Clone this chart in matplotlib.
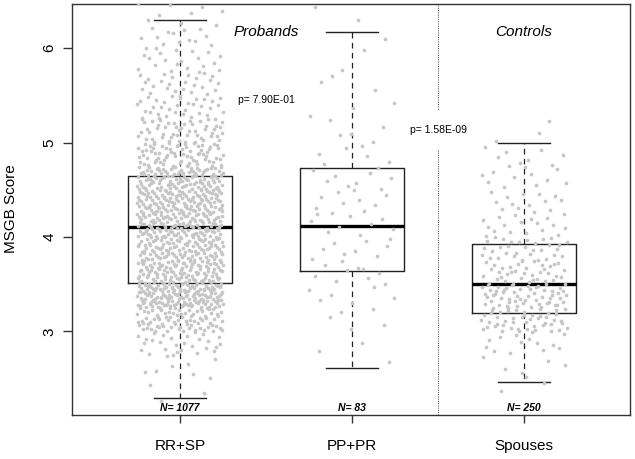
import numpy as np
import matplotlib.pyplot as plt

plt.rcParams['font.family'] = ['Liberation Sans', 'DejaVu Sans']

# groups and box statistics
groups = ["RR+SP", "PP+PR", "Spouses"]
n_subjects = [1077, 83, 250]
whisk_lo = [2.30, 2.61, 2.46]
q1 = [3.51, 3.64, 3.20]
median = [4.11, 4.12, 3.50]
q3 = [4.65, 4.73, 3.93]
whisk_hi = [6.30, 6.17, 5.00]

# estimated number of points in each 0.25-wide score band (band starts below)
band_start = [2.25, 2.50, 2.75, 3.00, 3.25, 3.50, 3.75, 4.00, 4.25,
              4.50, 4.75, 5.00, 5.25, 5.50, 5.75, 6.00, 6.25]
rr_sp_band = [3, 8, 28, 80, 150, 115, 110, 120, 125, 115, 70, 50, 35, 25, 20, 15, 8]
pp_pr_band = [0, 1, 2, 5, 6, 10, 9, 9, 10, 9, 6, 5, 3, 3, 2, 1, 2]
spouse_band = [2, 6, 14, 48, 55, 38, 32, 18, 14, 12, 8, 3, 0, 0, 0, 0, 0]

p_values = ["p= 7.90E-01", "p= 1.58E-09"]
band_w = 0.25


def vdc(k, base):
    # van der Corput value, used to spread points inside a band
    v, denom = 0.0, 1.0
    while k > 0:
        denom *= base
        k, r = divmod(k, base)
        v += r / denom
    return v


fig = plt.figure(figsize=(6.35, 4.59), dpi=100)
ax = fig.add_axes([72/635, 44/459, 558/635, 411/459])

stats = []
for i in range(3):
    stats.append(dict(med=median[i], q1=q1[i], q3=q3[i],
                      whislo=whisk_lo[i], whishi=whisk_hi[i], fliers=[]))
ax.bxp(stats, positions=[1, 2, 3], widths=0.6, capwidths=0.3,
       showfliers=False, patch_artist=False,
       boxprops=dict(color='#222222', lw=1.0),
       medianprops=dict(color='black', lw=2.4, solid_capstyle='butt'),
       whiskerprops=dict(color='#222222', lw=0.9, linestyle=(0, (4.5, 3.5))),
       capprops=dict(color='#222222', lw=1.0), zorder=2)

# jittered points
for gi, (pos, bands) in enumerate(zip([1, 2, 3], [rr_sp_band, pp_pr_band, spouse_band])):
    xs, ys = [], []
    k = 17 + 101 * gi
    for start, cnt in zip(band_start, bands):
        for j in range(cnt):
            k += 1
            xs.append(pos + (vdc(k, 2) - 0.5) * 0.5)
            ys.append(start + vdc(k, 3) * band_w)
    ax.scatter(xs, ys, s=7, color='#c6c6c6', linewidths=0, zorder=3)

# dotted separator, broken around the second p-value
ax.plot([2.5, 2.5], [2.0, 4.93], color='#444444', lw=0.7, linestyle=(0, (1, 1.3)), zorder=1)
ax.plot([2.5, 2.5], [5.35, 7.0], color='#444444', lw=0.7, linestyle=(0, (1, 1.3)), zorder=1)

ax.text(1.5, 6.17, "Probands", style='italic', fontsize=11, ha='center', va='center')
ax.text(3.0, 6.17, "Controls", style='italic', fontsize=11, ha='center', va='center')
ax.text(1.5, 5.45, p_values[0], fontsize=7.5, ha='center', va='center')
ax.text(2.5, 5.13, p_values[1], fontsize=7.5, ha='center', va='center')
for pos, n in zip([1, 2, 3], n_subjects):
    ax.text(pos, 2.185, f"N= {n}", fontsize=7.5, fontweight='bold', style='italic',
            ha='center', va='center', zorder=4)

ax.set_xlim(0.372, 3.616)
ax.set_ylim(2.116, 6.466)
ax.set_xticks([1, 2, 3])
ax.set_xticklabels(groups, fontsize=11)
ax.set_yticks([3, 4, 5, 6])
ax.set_yticklabels(['3', '4', '5', '6'], fontsize=11, rotation=90, va='center')
ax.tick_params(axis='x', length=6, width=1, pad=11, color='#333333')
ax.tick_params(axis='y', length=6.2, width=1, pad=5, color='#333333')
for sp in ax.spines.values():
    sp.set_linewidth(1.0)
    sp.set_color('#333333')

fig.text(11/635, 1 - 209/459, "MSGB Score", rotation=90, fontsize=11,
         ha='center', va='center')

fig.savefig('out.png', dpi=100)
